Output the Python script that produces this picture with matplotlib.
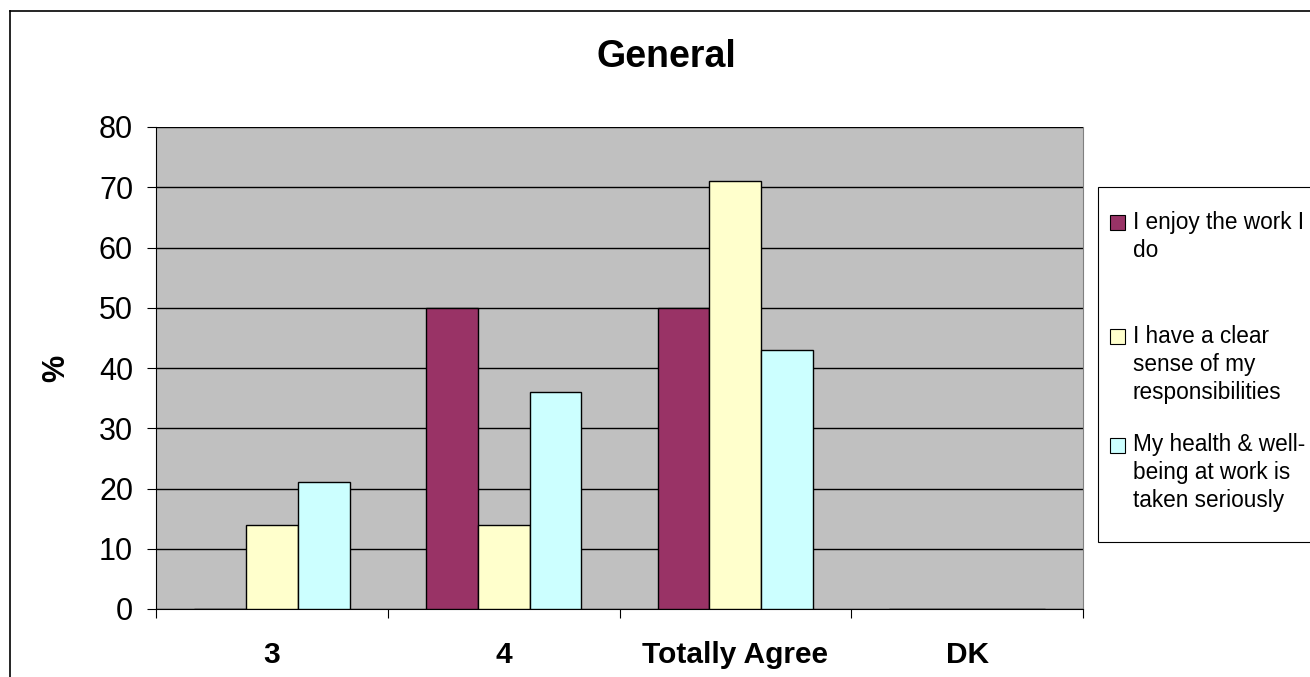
import textwrap
import matplotlib
matplotlib.use("Agg")
import matplotlib.pyplot as plt
from matplotlib.patches import Rectangle
from matplotlib.lines import Line2D
import numpy as np

plt.rcParams['font.family'] = ['Liberation Sans', 'DejaVu Sans']

title = "General"
categories = ["3", "4", "Totally Agree", "DK"]
series_names = [
    "I enjoy the work I do",
    "I have a clear sense of my responsibilities",
    "My health & well-being at work is taken seriously",
]
enjoy_work = [0, 50, 50, 0]
clear_sense = [14, 14, 71, 0]
health_wellbeing = [21, 36, 43, 0]
series_values = [enjoy_work, clear_sense, health_wellbeing]
series_colors = ["#993366", "#FFFFCC", "#CCFFFF"]
y_ticks = [0, 10, 20, 30, 40, 50, 60, 70, 80]

W, H = 1310, 677
fig = plt.figure(figsize=(W / 100, H / 100), dpi=100)
fig.patch.set_facecolor("white")

# outer chart frame (left and top edges visible)
fig.add_artist(Line2D([9.5 / W, 9.5 / W], [0, 1 - 11 / H], transform=fig.transFigure,
                      color="black", lw=1.2))
fig.add_artist(Line2D([9.5 / W, 1], [1 - 11 / H, 1 - 11 / H], transform=fig.transFigure,
                      color="black", lw=1.2))

ax = fig.add_axes([156 / W, 1 - 609 / H, (1083 - 156) / W, (609 - 127) / H])
ax.set_facecolor("#C0C0C0")

n_cat = len(categories)
x = np.arange(n_cat)
bar_w = 0.224
for i, (vals, col) in enumerate(zip(series_values, series_colors)):
    ax.bar(x + (i - 1) * bar_w, vals, width=bar_w, color=col,
           edgecolor="black", linewidth=1.0, zorder=3)

ax.set_xlim(-0.5, n_cat - 0.5)
ax.set_ylim(0, 80)
ax.set_yticks(y_ticks)
ax.set_yticklabels([str(t) for t in y_ticks], fontsize=22)
ax.yaxis.grid(True, color="black", linewidth=1.0, zorder=1)
ax.set_axisbelow(True)
ax.tick_params(axis="y", length=6.5, width=0.8, pad=10, direction="out")

# category boundaries as ticks, labels at category centres
ax.set_xticks(np.arange(n_cat + 1) - 0.5)
ax.set_xticklabels([])
ax.set_xticks(x, minor=True)
ax.set_xticklabels(categories, minor=True, fontsize=21.5, fontweight="bold")
ax.tick_params(axis="x", which="major", length=6.5, width=0.8, direction="out")
ax.tick_params(axis="x", which="minor", length=0, pad=23)

ax.spines["top"].set_visible(False)
ax.spines["right"].set_color("#808080")
ax.spines["left"].set_color("black")
ax.spines["bottom"].set_color("black")

ax.set_ylabel("%", fontsize=22, fontweight="bold", labelpad=20)

fig.text(666 / W, 1 - 57 / H, title, ha="center", va="center",
         fontsize=27, fontweight="bold")

# legend box
leg_left, leg_top, leg_bottom = 1098, 187, 542
fig.add_artist(Rectangle((leg_left / W, 1 - leg_bottom / H),
                         (W + 5 - leg_left) / W, (leg_bottom - leg_top) / H,
                         transform=fig.transFigure, facecolor="white",
                         edgecolor="black", linewidth=0.8, clip_on=False))
entry_tops = [222, 337, 445]
line_h = 28
for name, col, y0 in zip(series_names, series_colors, entry_tops):
    fig.add_artist(Rectangle((1110 / W, 1 - (y0 + 7.5) / H), 15 / W, 15 / H,
                             transform=fig.transFigure, facecolor=col,
                             edgecolor="black", linewidth=0.8))
    for k, line in enumerate(textwrap.wrap(name, 18)):
        fig.text(1133 / W, 1 - (y0 + k * line_h) / H, line, ha="left",
                 va="center", fontsize=16.3)

fig.savefig("out.png", dpi=100)
